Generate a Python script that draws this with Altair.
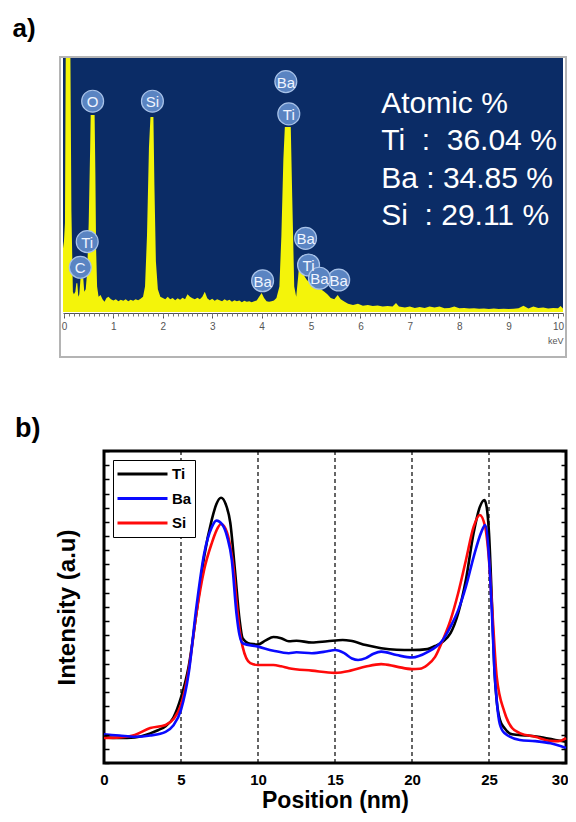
import altair as alt
import pandas as pd

FONT = "Liberation Sans"
BG = "#0b2c66"
YEL = "#f4f40a"
CIRC = "#5a84c2"
W, H = 560, 806

# ---------------- panel a : EDS spectrum ----------------
spec_kev = [
    -0.02, 0.00, 0.02, 0.035, 0.04, 0.12, 0.13, 0.15, 0.18,
    0.20, 0.23, 0.25, 0.27, 0.29, 0.31, 0.335, 0.39, 0.41, 0.44, 0.47, 0.50, 0.53, 0.54, 0.62, 0.635, 0.65, 0.67, 0.70,
    0.74, 0.78, 0.82, 0.86, 0.90, 0.95, 1.00, 1.05, 1.10, 1.15, 1.20, 1.25, 1.30, 1.35, 1.40, 1.45, 1.50, 1.55, 1.60,
    1.64, 1.68, 1.72, 1.75, 1.81, 1.83, 1.86, 1.90, 1.95,
    2.00, 2.05, 2.10, 2.15, 2.20, 2.25, 2.30, 2.35, 2.40, 2.45,
    2.50, 2.55, 2.60, 2.65, 2.70, 2.75, 2.80, 2.85, 2.90, 2.95,
    3.00, 3.05, 3.10, 3.15, 3.20, 3.25, 3.30, 3.35, 3.40, 3.45,
    3.50, 3.55, 3.60, 3.65, 3.70, 3.75, 3.80, 3.85, 3.90, 3.95,
    4.00, 4.05, 4.10, 4.15, 4.20, 4.25, 4.30,
    4.36, 4.40, 4.44, 4.47, 4.59, 4.62, 4.66, 4.70, 4.74, 4.77, 4.83, 4.87, 4.92, 5.00, 5.07, 5.14, 5.20, 5.27,
    5.33, 5.40, 5.47, 5.54, 5.60, 5.68, 5.75, 5.85, 5.95, 6.05, 6.15, 6.25, 6.35, 6.45, 6.55, 6.65, 6.72, 6.78,
    6.90, 7.00, 7.10, 7.20, 7.30, 7.40, 7.50, 7.60, 7.70, 7.80,
    7.90, 8.00, 8.10, 8.20, 8.30, 8.40, 8.50, 8.60, 8.70, 8.80,
    8.90, 9.00, 9.10, 9.20, 9.30, 9.40, 9.50, 9.60, 9.70, 9.80,
    9.90, 10.00, 10.05, 10.10,
]
spec_cnt = [
    25, 28, 35, 100, 120, 120, 100, 40, 8,
    7, 8, 11.3, 11.3, 6, 7, 13.3, 13.3, 8, 9, 16, 35, 65, 77.6, 77.6, 55, 25, 10, 6,
    6.7, 5, 4, 5.5, 6, 5, 4.5, 5, 4.2, 4.8, 4.4, 5, 4.2, 4.8, 4.4, 5, 4.6, 5.2, 6,
    10, 30, 65, 76.8, 76.8, 50, 20, 9, 6,
    5.5, 5, 6, 5, 5.5, 4.6, 5.4, 4.8, 5.6, 5,
    7, 6, 5.4, 5, 5.6, 5, 6, 8, 5.4, 4.6,
    5.2, 4.4, 5, 4.6, 4.2, 5, 4.4, 4.8, 4, 4.6,
    4.2, 4.5, 3.8, 4.4, 4, 4.2, 3.8, 4.2, 4.5, 6,
    7.5, 5.5, 4.2, 4, 4.2, 4.5, 5.5,
    10, 30, 60, 72.8, 72.8, 45, 10, 6, 14, 21, 21, 14, 12.5, 11.4, 10.5, 10, 9, 8,
    7, 5.5, 5, 6.7, 5, 4, 3.2, 2.8, 3.2, 2.5, 2.8, 2.4, 2.6, 2.2, 2.4, 2.2, 3.5, 2.2,
    1.8, 2.2, 1.6, 2, 1.6, 2.2, 1.8, 2.2, 1.5, 1.6,
    2.2, 1.5, 1.6, 1.4, 1.5, 1.3, 1.4, 1.2, 1.4, 1.2,
    1.3, 1.2, 1.3, 1.5, 2.5, 1.4, 2.2, 1.6, 1.8, 1.4,
    1.6, 1.5, 2.4, 1.4,
]
peak_label = ["O", "Si", "Ba", "Ti", "Ti", "C", "Ba", "Ba", "Ti", "Ba", "Ba"]
peak_kev = [0.58, 1.79, 4.49, 4.55, 0.47, 0.33, 4.02, 4.89, 4.95, 5.56, 5.17]
peak_cnt = [83, 83, 90.7, 78, 27.7, 17.6, 12.3, 29, 18.5, 12.6, 13.3]

atomic_lines = ["Atomic %", "Ti\u00a0\u00a0:\u00a0\u00a036.04 %", "Ba : 34.85 %", "Si\u00a0\u00a0: 29.11 %"]
atomic_kev = [6.42, 6.42, 6.42, 6.42]
atomic_cnt = [78.3, 63.8, 48.8, 34.3]

kev_domain = [-0.02, 10.1]
cnt_domain = [0, 100]
kev_major = [0, 1, 2, 3, 4, 5, 6, 7, 8, 9, 10]
kev_minor = [i / 10 for i in range(102)]

# ---------------- panel b : line profile ----------------
ti_pos = [0, 1, 2, 3, 3.5, 4, 4.5, 5, 5.5, 6, 6.5, 7, 7.3, 7.6, 7.9, 8.2, 8.5, 8.8, 9, 9.5,
          10, 10.5, 11, 11.5, 12, 12.5, 13.5, 14.5, 15.5, 16, 17, 18, 19, 20, 21, 21.5, 22, 22.5, 23, 23.5,
          24, 24.4, 24.7, 24.85, 25.0, 25.2, 25.35, 25.5, 25.7, 26, 26.5, 27.5, 28.5, 29.5, 30]
ti_val = [8.3, 8.0, 8.2, 9.5, 10.5, 11.8, 14.5, 21, 31, 48, 66, 78, 83, 85, 83, 77, 62, 46, 40, 38.2,
          38, 39.3, 40.4, 40, 39, 39.2, 38.6, 39, 39.4, 39.2, 37.8, 36.8, 36.3, 36.2, 36.5, 37.5, 38.9, 41.6, 48, 58.7,
          73.7, 82, 84.3, 82, 73.7, 50, 30, 20, 14, 11.2, 9.2, 8.8, 8.2, 7.2, 6.8]
ba_pos = [0, 1, 2, 3, 4, 4.5, 5, 5.5, 6, 6.5, 7, 7.3, 7.7, 8, 8.3, 8.6, 8.8, 9, 10, 11,
          12, 12.5, 13.5, 14.5, 15, 15.6, 16.1, 16.5, 17, 17.5, 18, 19, 20, 21, 22, 22.5, 23, 23.5, 24, 24.5,
          24.75, 25, 25.2, 25.35, 25.5, 25.7, 26, 27, 28, 29, 30]
ba_val = [9.2, 8.8, 8.4, 8.8, 10, 12, 17, 28.8, 50, 67, 75.6, 77.7, 76.3, 72.5, 65, 48, 41, 38.4, 37.3, 36,
          35.2, 35.5, 35.2, 35.8, 36.2, 35.2, 33.5, 33, 33.6, 35, 35.7, 34.6, 33.8, 35.5, 39.4, 43.7, 49, 56.5, 66, 74,
          76.3, 66, 46.9, 30, 20, 12.5, 9.6, 7.4, 7, 6.3, 4.8]
si_pos = [0, 1, 2, 3, 4, 4.5, 5, 5.5, 6, 6.5, 7, 7.3, 7.6, 7.9, 8.2, 8.4, 8.6, 8.8, 9, 9.5,
          10, 11, 11.5, 12, 13.5, 15, 16, 17, 18, 19, 20, 20.5, 21, 21.5, 22, 22.5, 23, 23.5, 24, 24.4,
          24.75, 25, 25.2, 25.5, 26, 26.5, 27, 28, 29, 29.5, 30]
si_val = [8, 8.2, 9, 11.2, 12.2, 14, 18.6, 29.8, 48, 61.9, 70.5, 74.5, 76.6, 75, 69.5, 63, 52, 43, 37.3, 32,
          31.4, 31.4, 31, 30.4, 29.6, 28.9, 29.6, 30.9, 31.7, 30.9, 30.1, 30.2, 31.4, 34, 39.4, 45.8, 54.5, 65, 75.7, 79.5,
          75.7, 65, 50, 27.7, 16.4, 11.2, 9.6, 8.4, 7.1, 7, 8]
elements = ["Ti", "Ba", "Si"]
elem_colors = ["#000000", "#0a0aff", "#ff0a0a"]
dash_pos = [5, 10, 15, 20, 25]
pos_domain = [0, 30]
val_domain = [0, 100]
pos_ticks = [0, 5, 10, 15, 20, 25, 30]
y_ticks = [round(i * 100 / 22, 4) for i in range(23)]
panel_labels = ["a)", "b)"]

# ---------------- layout (pixels inside the canvas) ----------------
A_X = [55, 555]     # panel a plot, left/right
A_Y = [304, 50]     # panel a plot, bottom/top
B_X = [96, 558]
B_Y = [755, 443]

sc_kev = alt.Scale(domain=kev_domain, range=A_X, nice=False, zero=False)
sc_cnt = alt.Scale(domain=cnt_domain, range=A_Y, nice=False, zero=False, clamp=True)
sc_pos = alt.Scale(domain=pos_domain, range=B_X, nice=False, zero=False)
sc_val = alt.Scale(domain=val_domain, range=B_Y, nice=False, zero=False)

one = pd.DataFrame({"k": [0]})
spec_df = pd.DataFrame({"kev": spec_kev, "cnt": spec_cnt})
peak_df = pd.DataFrame({"kev": peak_kev, "cnt": peak_cnt, "lab": peak_label})
atom_df = pd.DataFrame({"kev": atomic_kev, "cnt": atomic_cnt, "line": atomic_lines})
box_a = pd.DataFrame({"k0": [kev_domain[0]], "k1": [kev_domain[1]], "c0": [cnt_domain[0]], "c1": [cnt_domain[1]]})
box_b = pd.DataFrame({"p0": [pos_domain[0]], "p1": [pos_domain[1]], "v0": [val_domain[0]], "v1": [val_domain[1]]})

# blue background of the spectrum
bg_a = alt.Chart(box_a).mark_rect(color=BG).encode(
    x=alt.X("k0:Q", scale=sc_kev, axis=None), x2="k1:Q",
    y=alt.Y("c0:Q", scale=sc_cnt, axis=None), y2="c1:Q")
# grey frame round panel a
frame_a = alt.Chart(one).mark_rect(fill="transparent", stroke="#b4b4b4", strokeWidth=2).encode(
    x=alt.value(52), x2=alt.value(558), y=alt.value(49), y2=alt.value(349))
area_a = alt.Chart(spec_df).mark_area(color=YEL, interpolate="linear").encode(
    x=alt.X("kev:Q", scale=sc_kev,
            axis=alt.Axis(orient="bottom", offset=A_Y[0] + 1 - H, values=kev_major, format="d",
                          labelFlush=False, labelFont=FONT, labelFontSize=10, labelColor="#555555",
                          labelPadding=3, tickSize=5, tickColor="#555555", domainColor="#555555",
                          grid=False, title="keV", titleFont=FONT, titleFontSize=9,
                          titleFontWeight="normal", titleColor="#555555", titleAnchor="end",
                          titlePadding=5)),
    y=alt.Y("cnt:Q", scale=sc_cnt, axis=None))
circ_a = alt.Chart(peak_df).mark_circle(size=480, color=CIRC, opacity=1, stroke="#a8c2e8",
                                        strokeWidth=1.2).encode(
    x=alt.X("kev:Q", scale=sc_kev,
            axis=alt.Axis(orient="bottom", offset=A_Y[0] + 1 - H, values=kev_minor, labels=False,
                          tickSize=3, tickColor="#777777", domain=False, grid=False, title=None)),
    y=alt.Y("cnt:Q", scale=sc_cnt, axis=None))
circ_txt = alt.Chart(peak_df).mark_text(font=FONT, fontSize=15, color="#f0f5ff",
                                        baseline="middle", align="center", dy=1).encode(
    x=alt.X("kev:Q", scale=sc_kev, axis=None), y=alt.Y("cnt:Q", scale=sc_cnt, axis=None),
    text="lab:N")
atom_txt = alt.Chart(atom_df).mark_text(font=FONT, fontSize=30, color="white",
                                        align="left", baseline="alphabetic").encode(
    x=alt.X("kev:Q", scale=sc_kev, axis=None), y=alt.Y("cnt:Q", scale=sc_cnt, axis=None),
    text="line:N")
lab_a = alt.Chart(pd.DataFrame({"t": [panel_labels[0]]})).mark_text(
    font=FONT, fontSize=26, fontWeight="bold", align="left", baseline="alphabetic", color="black").encode(
    x=alt.value(4.5), y=alt.value(29), text="t:N")

# ---------------- panel b ----------------
rows = []
for name, ps, vs in (("Ti", ti_pos, ti_val), ("Si", si_pos, si_val), ("Ba", ba_pos, ba_val)):
    for p, v in zip(ps, vs):
        rows.append({"pos": p, "val": v, "elem": name})
prof_df = pd.DataFrame(rows)
dash_df = pd.DataFrame({"pos": dash_pos, "lo": [val_domain[0]] * 5, "hi": [val_domain[1]] * 5})

last_tick = "datum.value == %d" % pos_ticks[-1]
x_b_axis = alt.Axis(orient="bottom", offset=B_Y[0] - H, values=pos_ticks, format="d", labelFlush=False,
                    labelAlign={"condition": {"test": last_tick, "value": "right"}, "value": "center"},
                    labelOffset={"condition": {"test": last_tick, "value": 2}, "value": 0},
                    labelFont=FONT, labelFontSize=15, labelFontWeight="bold", labelColor="black",
                    ticks=False, domain=False, labelPadding=9, grid=False,
                    title="Position (nm)", titleFont=FONT, titleFontSize=23,
                    titleFontWeight="bold", titleColor="black", titlePadding=2)

frame_b = alt.Chart(box_b).mark_rect(fill="transparent", stroke="black", strokeWidth=3).encode(
    x=alt.X("p0:Q", scale=sc_pos, axis=None), x2="p1:Q",
    y=alt.Y("v0:Q", scale=sc_val, axis=None), y2="v1:Q")
rules_b = alt.Chart(dash_df).mark_rule(color="black", strokeWidth=1.2, strokeDash=[4, 3]).encode(
    x=alt.X("pos:Q", scale=sc_pos, axis=None),
    y=alt.Y("lo:Q", scale=sc_val, axis=None), y2="hi:Q")
lines_b = alt.Chart(prof_df).mark_line(strokeWidth=2.6, interpolate="monotone").encode(
    x=alt.X("pos:Q", scale=sc_pos, axis=x_b_axis),
    y=alt.Y("val:Q", scale=sc_val,
            axis=alt.Axis(orient="left", values=y_ticks, labels=False, tickSize=5, tickWidth=1.5,
                          tickColor="black", domain=False, offset=-(B_X[0] + 5), grid=False, zindex=1,
                          title="Intensity (a.u)", titleFont=FONT, titleFontSize=24,
                          titleFontWeight="bold", titleColor="black", titlePadding=24)),
    color=alt.Color("elem:N", scale=alt.Scale(domain=elements, range=elem_colors),
                    legend=alt.Legend(title=None, orient="none", legendX=105, legendY=452,
                                      symbolType="stroke", symbolSize=2500, symbolStrokeWidth=3,
                                      clipHeight=22, rowPadding=2.5, padding=3,
                                      labelFont=FONT, labelFontSize=15, labelFontWeight="bold",
                                      labelColor="black", labelOffset=3,
                                      fillColor="white", strokeColor="black")),
    order=alt.Order("pos:Q"))
right_b = alt.Chart(prof_df).mark_point(opacity=0).encode(
    x=alt.X("pos:Q", scale=sc_pos, axis=None),
    y=alt.Y("val:Q", scale=sc_val,
            axis=alt.Axis(orient="right", values=y_ticks, labels=False, tickSize=5, tickWidth=1.5,
                          tickColor="black", domain=False, offset=B_X[1] - 5 - W, grid=False, zindex=1,
                          title=None)))
lab_b = alt.Chart(pd.DataFrame({"t": [panel_labels[1]]})).mark_text(
    font=FONT, fontSize=27, fontWeight="bold", align="left", baseline="alphabetic", color="black").encode(
    x=alt.value(7), y=alt.value(429), text="t:N")

chart = alt.layer(
    bg_a, area_a, circ_a, circ_txt, atom_txt, frame_a, lab_a,
    frame_b, rules_b, lines_b, right_b, lab_b,
).resolve_scale(x="independent", y="independent").resolve_axis(
    x="independent", y="independent").properties(
    width=W, height=H, padding=0, autosize=alt.AutoSizeParams(type="none"),
).configure(font=FONT).configure_view(stroke=None)

chart.save("out.html", embed_options={"renderer": "svg", "actions": False})
